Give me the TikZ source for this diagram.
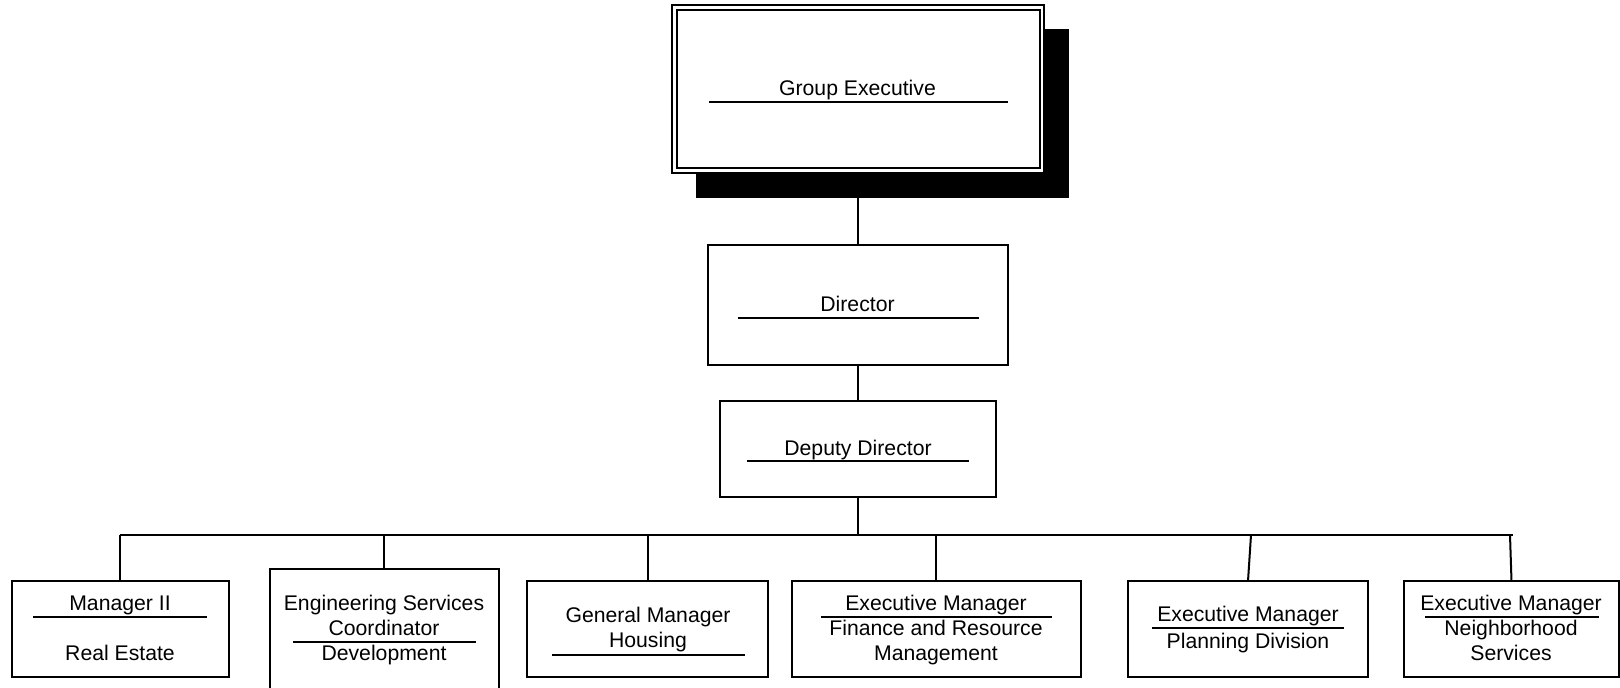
\documentclass[tikz,border=0pt]{standalone}
\usepackage{fontspec}
\setmainfont{Liberation Sans}
\newcommand\orgfont{\fontsize{21.2}{25}\selectfont}
\tikzset{
  box/.style={draw, line width=2pt, fill=white, inner sep=0pt, outer sep=0pt},
  shadowbox/.style={draw, fill=black, line width=1pt, inner sep=0pt, outer sep=0pt},
  txt/.style={font=\orgfont, anchor=base, inner sep=0pt, outer sep=0pt},
  sep/.style={line width=2pt},
  conn/.style={line width=2pt},
}
\begin{document}
\begin{tikzpicture}[x=1pt,y=-1pt]
\useasboundingbox (0,0) rectangle (1620,688);
\clip (0,0) rectangle (1620,688);
% Group Executive
\node[shadowbox, minimum width=372pt, minimum height=168pt] (geshadow) at (882,113) {};
\node[box, minimum width=372pt, minimum height=168pt] (ge) at (858,89) {};
\node[box, fill=none, minimum width=363pt, minimum height=158pt] (gein) at (858.5,89) {};
\node[txt] (getxt) at (857.5,95) {Group Executive};
\draw[sep] (709,102) -- (1008,102);
% Director
\node[box, minimum width=300pt, minimum height=120pt] (dir) at (858,305) {};
\node[txt] (dirtxt) at (857.5,311) {Director};
\draw[sep] (738,318) -- (979,318);
% Deputy Director
\node[box, minimum width=276pt, minimum height=96pt] (dep) at (858,449) {};
\node[txt] (deptxt) at (858,455) {Deputy Director};
\draw[sep] (747,461) -- (969,461);
% bottom row
\node[box, minimum width=217pt, minimum height=96pt] (m2) at (120.5,629) {};
\node[txt] (m2a) at (120,610) {Manager II};
\node[txt] (m2b) at (120,660) {Real Estate};
\draw[sep] (33,617) -- (207,617);

\node[box, minimum width=229pt, minimum height=131pt] (eng) at (384.5,634.5) {};
\node[txt] (enga) at (384,610) {Engineering Services};
\node[txt] (engb) at (384,635) {Coordinator};
\node[txt] (engc) at (384,660) {Development};
\draw[sep] (293,642) -- (476,642);

\node[box, minimum width=241pt, minimum height=96pt] (gm) at (647.5,629) {};
\node[txt] (gma) at (648,622) {General Manager};
\node[txt] (gmb) at (648,647.5) {Housing};
\draw[sep] (552,655) -- (745,655);

\node[box, minimum width=289pt, minimum height=96pt] (fin) at (936.5,629) {};
\node[txt] (fina) at (936,610) {Executive Manager};
\node[txt] (finb) at (936,635) {Finance and Resource};
\node[txt] (finc) at (936,660) {Management};
\draw[sep] (821,617) -- (1052,617);

\node[box, minimum width=240pt, minimum height=96pt] (pl) at (1248,629) {};
\node[txt] (pla) at (1248,621.5) {Executive Manager};
\node[txt] (plb) at (1248,648) {Planning Division};
\draw[sep] (1152,628) -- (1344,628);

\node[box, minimum width=215pt, minimum height=96pt] (nb) at (1511.5,629) {};
\node[txt] (nba) at (1511,610) {Executive Manager};
\node[txt] (nbb) at (1511,635) {Neighborhood};
\node[txt] (nbc) at (1511,660) {Services};
\draw[sep] (1425,617) -- (1599,617);

% connectors
\coordinate (busL) at (120,535);
\coordinate (busR) at (1513,535);
\coordinate (engTop) at (384,535);
\coordinate (gmTop) at (648,535);
\coordinate (finTop) at (936,535);
\coordinate (plTop) at (1251,535);
\coordinate (nbTop) at (1510,535);
\draw[conn] (ge.south) -- (dir.north);
\draw[conn] (dir.south) -- (dep.north);
\draw[conn] (dep.south) -- (dep.south |- busL);
\draw[conn] (busL) -- (busR);
\draw[conn] (busL) -- (busL |- m2.north);
\draw[conn] (engTop) -- (engTop |- eng.north);
\draw[conn] (gmTop) -- (gmTop |- gm.north);
\draw[conn] (finTop) -- (finTop |- fin.north);
\draw[conn] (plTop) -- (pl.north);
\draw[conn] (nbTop) -- (nb.north);
\end{tikzpicture}
\end{document}
